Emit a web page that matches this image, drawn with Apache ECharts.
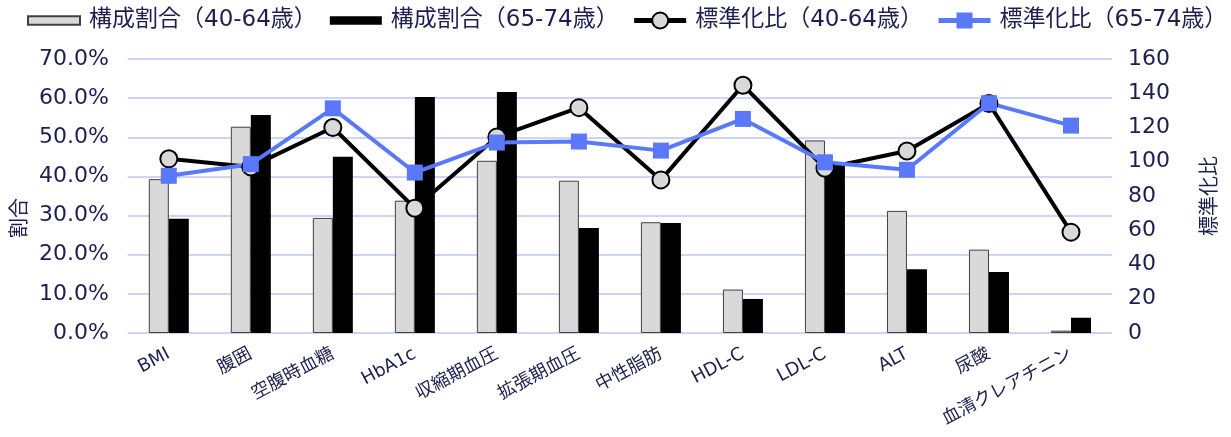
<!DOCTYPE html>
<html>
<head>
<meta charset="utf-8">
<script src="https://cdn.jsdelivr.net/npm/echarts@6/dist/echarts.min.js"></script>
<style>
  html, body { margin: 0; padding: 0; background: #fff; }
  #chart { width: 1231px; height: 437px; }
</style>
</head>
<body>
<div id="chart"></div>
<script>
// 検査項目
var categories = ['BMI', '腹囲', '空腹時血糖', 'HbA1c', '収縮期血圧', '拡張期血圧', '中性脂肪', 'HDL-C', 'LDL-C', 'ALT', '尿酸', '血清クレアチニン'];
// 構成割合（%）
var ratio4064 = [39.3, 52.7, 29.4, 33.8, 44.0, 38.9, 28.3, 11.1, 49.2, 31.2, 21.3, 0.6];
var ratio6574 = [29.2, 55.7, 45.0, 60.3, 61.6, 26.8, 28.1, 8.7, 42.8, 16.3, 15.6, 3.9];
// 標準化比
var smr4064 = [101.7, 97.0, 120.0, 72.9, 114.5, 131.6, 89.4, 144.7, 96.2, 106.3, 134.0, 58.9];
var smr6574 = [91.8, 98.6, 131.2, 93.7, 111.2, 111.8, 106.5, 125.0, 99.7, 95.3, 134.2, 121.1];

var navy = '#1c1f4f';
var tickFont = 'DejaVu Sans, Noto Sans CJK JP, sans-serif';
var cjkFont = 'Noto Sans CJK JP, sans-serif';
// 凡例の平たい四角
var flatRect = 'path://M0,0 L50,0 L50,8 L0,8 Z';

var chart = echarts.init(document.getElementById('chart'));
chart.setOption({
  animation: false,
  legend: {
    left: 22,
    width: 1400, // 折り返さない
    top: 4,
    itemWidth: 52,
    itemHeight: 20,
    itemGap: 13,
    symbolKeepAspect: true,
    textStyle: { color: navy, fontSize: 23, fontFamily: tickFont, padding: [0, 0, 0, 4] },
    data: [
      { name: '構成割合（40-64歳）', icon: flatRect },
      { name: '構成割合（65-74歳）', icon: flatRect },
      { name: '標準化比（40-64歳）', lineStyle: { width: 5 } },
      { name: '標準化比（65-74歳）', lineStyle: { width: 5 } }
    ]
  },
  grid: { left: 127, right: 119, top: 59, bottom: 104 },
  xAxis: {
    type: 'category',
    data: categories,
    axisLine: { show: false },
    axisTick: { show: false },
    axisLabel: {
      rotate: 28,
      margin: 20,
      interval: 0,
      color: navy,
      fontSize: 18,
      fontFamily: tickFont
    }
  },
  yAxis: [
    {
      type: 'value',
      min: 0,
      max: 70,
      interval: 10,
      name: '割合',
      nameLocation: 'middle',
      nameRotate: 90,
      nameGap: 96,
      nameTextStyle: { color: navy, fontSize: 20, fontFamily: cjkFont, padding: [0, 44, 0, 0] },
      axisLine: { show: false },
      axisTick: { show: false },
      axisLabel: {
        margin: 19,
        color: navy,
        fontSize: 22,
        fontFamily: tickFont,
        formatter: function (v) { return v.toFixed(1) + '%'; }
      },
      splitLine: { lineStyle: { color: '#cdd5f7', width: 2 } }
    },
    {
      type: 'value',
      min: 0,
      max: 160,
      interval: 20,
      name: '標準化比',
      nameLocation: 'middle',
      nameRotate: 90,
      nameGap: 86,
      nameTextStyle: { color: navy, fontSize: 20, fontFamily: cjkFont },
      axisLine: { show: false },
      axisTick: { show: false },
      axisLabel: { margin: 16, color: navy, fontSize: 22, fontFamily: tickFont },
      splitLine: { show: false }
    }
  ],
  series: [
    {
      name: '構成割合（40-64歳）',
      type: 'bar',
      data: ratio4064,
      barWidth: 20,
      barGap: '0%',
      itemStyle: { color: '#d9d9d9', borderColor: '#404040', borderWidth: 1 }
    },
    {
      name: '構成割合（65-74歳）',
      type: 'bar',
      data: ratio6574,
      barWidth: 20,
      itemStyle: { color: '#000' }
    },
    {
      name: '標準化比（40-64歳）',
      type: 'line',
      yAxisIndex: 1,
      data: smr4064,
      symbol: 'circle',
      symbolSize: 17,
      lineStyle: { color: '#000', width: 4 },
      itemStyle: { color: '#d9d9d9', borderColor: '#000', borderWidth: 2 }
    },
    {
      name: '標準化比（65-74歳）',
      type: 'line',
      yAxisIndex: 1,
      data: smr6574,
      symbol: 'rect',
      symbolSize: 16,
      lineStyle: { color: '#5a78fa', width: 4 },
      itemStyle: { color: '#5a78fa' }
    }
  ]
});
</script>
</body>
</html>
